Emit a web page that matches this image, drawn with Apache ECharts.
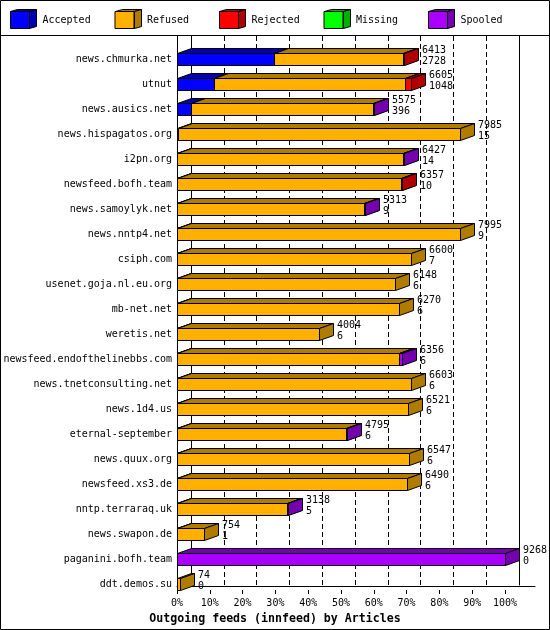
<!DOCTYPE html>
<html>
<head>
<meta charset="utf-8">
<script src="https://cdn.jsdelivr.net/npm/echarts@6/dist/echarts.min.js"></script>
<style>
  html, body { margin: 0; padding: 0; background: #fff; }
  #chart { width: 550px; height: 630px; }
</style>
</head>
<body>
<div id="chart"></div>
<script>
// ---- data ----
const categories = ['news.chmurka.net','utnut','news.ausics.net','news.hispagatos.org','i2pn.org','newsfeed.bofh.team','news.samoylyk.net','news.nntp4.net','csiph.com','usenet.goja.nl.eu.org','mb-net.net','weretis.net','newsfeed.endofthelinebbs.com','news.tnetconsulting.net','news.1d4.us','eternal-september','news.quux.org','newsfeed.xs3.de','nntp.terraraq.uk','news.swapon.de','paganini.bofh.team','ddt.demos.su'];
const accepted = [2728,1048,396,15,14,10,9,9,7,6,6,6,6,6,6,6,6,6,5,1,0,0];
const refused  = [3645,5387,5149,7970,6373,6317,5274,7986,6593,6142,6264,3998,6265,6597,6515,4759,6541,6484,3108,753,0,74];
const rejected = [40,170,0,0,0,30,0,0,0,0,0,0,0,0,0,0,0,0,0,0,0,0];
const missing  = [0,0,0,0,0,0,0,0,0,0,0,0,0,0,0,0,0,0,0,0,0,0];
const spooled  = [0,0,30,0,40,0,30,0,0,0,0,0,85,0,0,30,0,0,25,0,9268,0];
const seriesNames = ['Accepted','Refused','Rejected','Missing','Spooled'];
const percentTicks = [0,10,20,30,40,50,60,70,80,90,100];
const titleText = 'Outgoing feeds (innfeed) by Articles';

// ---- styling ----
const FONT = 'DejaVu Sans Mono';
const frontColors = ['#0000ff','#ffb000','#ff0000','#00ff00','#aa00ff'];
const darkColors  = ['#0000b0','#b07c00','#b00000','#00b000','#7400b0'];
const DX = 14, DY = 5, BH = 12;

const segs = [accepted, refused, rejected, missing, spooled];
const totals = categories.map((_, i) => segs.reduce((s, a) => s + a[i], 0));
const maxTotal = Math.max(...totals);

function segData(k) {
  return categories.map((_, i) => {
    let start = 0;
    for (let j = 0; j < k; j++) start += segs[j][i];
    return [start, start + segs[k][i], i];
  });
}

function boxRenderer(k) {
  return function (params, api) {
    const s = api.value(0), e = api.value(1), c = api.value(2);
    if (e - s <= 0) return null;
    const p0 = api.coord([s, c]);
    const p1 = api.coord([e, c]);
    const x0 = Math.round(p0[0]) + 0.5, x1 = Math.round(p1[0]) + 0.5;
    const yc = Math.round(p0[1]);
    const top = yc - BH / 2 + 0.5, bot = yc + BH / 2 + 0.5;
    const line = { stroke: '#000', lineWidth: 1 };
    return {
      type: 'group',
      children: [
        { type: 'polygon', shape: { points: [[x0, top], [x1, top], [x1 + DX, top - DY], [x0 + DX, top - DY]] },
          style: Object.assign({ fill: darkColors[k] }, line) },
        { type: 'polygon', shape: { points: [[x1, top], [x1 + DX, top - DY], [x1 + DX, bot - DY], [x1, bot]] },
          style: Object.assign({ fill: darkColors[k] }, line) },
        { type: 'rect', shape: { x: x0, y: top, width: x1 - x0, height: BH },
          style: Object.assign({ fill: frontColors[k] }, line) }
      ]
    };
  };
}

const series = seriesNames.map((name, k) => ({
  type: 'custom',
  name: name,
  xAxisIndex: 0, yAxisIndex: 0,
  itemStyle: { color: frontColors[k] },
  encode: { x: [0, 1], y: 2 },
  renderItem: boxRenderer(k),
  data: segData(k),
  z: 5 + k
}));

series.push({
  type: 'custom',
  name: 'labels',
  xAxisIndex: 0, yAxisIndex: 0,
  encode: { x: 0, y: 1 },
  data: categories.map((_, i) => [totals[i], i, accepted[i]]),
  renderItem: function (params, api) {
    const p = api.coord([api.value(0), api.value(1)]);
    const x = Math.round(p[0]) + DX + 4;
    const yc = Math.round(p[1]);
    return {
      type: 'group',
      children: [
        { type: 'text', style: { text: String(api.value(0)), x: x, y: yc - 9, fill: '#000', font: '10px "' + FONT + '"', align: 'left', verticalAlign: 'middle' } },
        { type: 'text', style: { text: String(api.value(2)), x: x, y: yc + 2, fill: '#000', font: '10px "' + FONT + '"', align: 'left', verticalAlign: 'middle' } }
      ]
    };
  },
  z: 20
});

// legends (one per item, evenly spaced)
const LEG_L = 10, LEG_STEP = 104.5, LEG_T = 11;
const legends = seriesNames.map((n, i) => ({
  data: [n],
  left: LEG_L + i * LEG_STEP,
  top: LEG_T,
  padding: 0,
  itemWidth: 19, itemHeight: 17,
  selectedMode: false,
  icon: 'rect',
  itemStyle: { borderColor: '#000', borderWidth: 1 },
  textStyle: { fontFamily: FONT, fontSize: 10, color: '#000', padding: [0, 0, 0, 8] }
}));

const graphics = [
  { type: 'rect', shape: { x: 0.5, y: 0.5, width: 549, height: 629 }, style: { fill: 'none', stroke: '#000', lineWidth: 1 }, z: 100 },
  { type: 'line', shape: { x1: 0, y1: 35.5, x2: 550, y2: 35.5 }, style: { stroke: '#000', lineWidth: 1 }, z: 100 }
];
seriesNames.forEach((n, i) => {
  const L = Math.round(LEG_L + i * LEG_STEP) + 0.5, T = LEG_T + 0.5;
  graphics.push({ type: 'polygon', shape: { points: [[L, T], [L + 7, T - 2], [L + 26, T - 2], [L + 19, T]] },
    style: { fill: darkColors[i], stroke: '#000', lineWidth: 1 }, z: 100 });
  graphics.push({ type: 'polygon', shape: { points: [[L + 19, T], [L + 26, T - 2], [L + 26, T + 15], [L + 19, T + 17]] },
    style: { fill: darkColors[i], stroke: '#000', lineWidth: 1 }, z: 100 });
});

const option = {
  animation: false,
  backgroundColor: '#fff',
  color: frontColors,
  title: { text: titleText, left: 'center', top: 608,
    textStyle: { fontFamily: FONT, fontWeight: 'bold', fontSize: 11.6, color: '#000' } },
  legend: legends,
  graphic: graphics,
  grid: [
    { left: 177, width: 328, top: 46.5, height: 550 },      // bars (front plane)
    { left: 177, width: 328, top: 36, bottom: 40 },        // front axis
    { left: 191, width: 328, top: 36, bottom: 45 },        // back wall
    { left: 177, right: 15, top: 36, bottom: 44 }          // floor line
  ],
  xAxis: [
    { gridIndex: 0, type: 'value', min: 0, max: maxTotal, show: false },
    { gridIndex: 1, type: 'value', min: 0, max: 100, interval: 10,
      axisLine: { show: false },
      axisTick: { show: true, length: 4, lineStyle: { color: '#000' } },
      axisLabel: { formatter: v => percentTicks.includes(v) ? v + '%' : '', fontFamily: FONT, fontSize: 10, color: '#000', margin: 8 },
      splitLine: { show: false } },
    { gridIndex: 2, type: 'value', min: 0, max: 100, interval: 10,
      axisLine: { show: false }, axisTick: { show: false }, axisLabel: { show: false },
      splitLine: { show: true, lineStyle: { color: '#000', type: [5, 3], width: 1 } } },
    { gridIndex: 3, type: 'value', min: 0, max: 1, show: true,
      axisLine: { show: true, lineStyle: { color: '#000' } }, axisTick: { show: false }, axisLabel: { show: false },
      splitLine: { show: false } }
  ],
  yAxis: [
    { gridIndex: 0, type: 'category', data: categories, inverse: true,
      axisLine: { show: false }, axisTick: { show: false },
      axisLabel: { fontFamily: FONT, fontSize: 10, color: '#000', margin: 5, interval: 0 } },
    { gridIndex: 1, type: 'value', axisLine: { show: true, lineStyle: { color: '#000' } },
      axisTick: { show: false }, axisLabel: { show: false }, splitLine: { show: false } },
    { gridIndex: 2, type: 'value', position: 'left', axisLine: { show: true, lineStyle: { color: '#000' } },
      axisTick: { show: false }, axisLabel: { show: false }, splitLine: { show: false } },
    { gridIndex: 2, type: 'value', position: 'right', axisLine: { show: true, lineStyle: { color: '#000' } },
      axisTick: { show: false }, axisLabel: { show: false }, splitLine: { show: false } },
    { gridIndex: 3, type: 'value', show: false }
  ],
  series: series
};

const chart = echarts.init(document.getElementById('chart'), null, { renderer: 'canvas' });
chart.setOption(option);
</script>
</body>
</html>
